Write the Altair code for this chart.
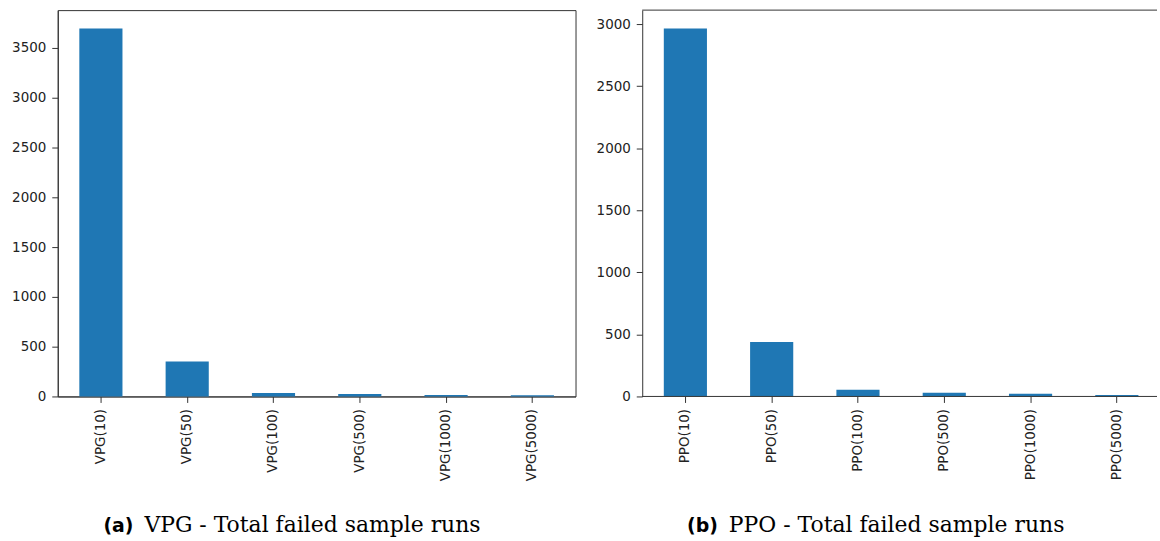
import altair as alt
import pandas as pd

# Failed sample runs per batch size
vpg_labels = ["VPG(10)", "VPG(50)", "VPG(100)", "VPG(500)", "VPG(1000)", "VPG(5000)"]
vpg_failed = [3695, 352, 34, 24, 14, 12]

ppo_labels = ["PPO(10)", "PPO(50)", "PPO(100)", "PPO(500)", "PPO(1000)", "PPO(5000)"]
ppo_failed = [2965, 439, 54, 30, 22, 12]

vpg_ticks = [0, 500, 1000, 1500, 2000, 2500, 3000, 3500]
ppo_ticks = [0, 500, 1000, 1500, 2000, 2500, 3000]

captions = [("(a)", "VPG - Total failed sample runs"), ("(b)", "PPO - Total failed sample runs")]

PLOT_H = 388
SPINE = "#333333"


def panel(labels, values, ticks, caption, plot_w, band_w, framed):
    df = pd.DataFrame({"run": labels, "failed": values})
    ymax = max(values) * 1.05  # 5% headroom above the tallest bar

    bars = alt.Chart(df).mark_bar(color="#1f77b4").encode(
        x=alt.X(
            "run:N",
            sort=labels,
            scale=alt.Scale(paddingInner=0.5, paddingOuter=0.25, range=[0, band_w]),
            axis=alt.Axis(title=None, labelAngle=270, domain=framed),
        ),
        y=alt.Y(
            "failed:Q",
            scale=alt.Scale(domain=[0, ymax], nice=False, zero=True),
            axis=alt.Axis(title=None, values=ticks, format="d"),
        ),
    )

    cap_df = pd.DataFrame({"tag": [caption[0]], "text": [caption[1]]})
    tag = alt.Chart(cap_df).mark_text(
        align="right", baseline="alphabetic", font="DejaVu Sans",
        fontWeight="bold", fontSize=19, color="black",
    ).encode(x=alt.value(76), y=alt.value(524), text="tag:N")
    cap = alt.Chart(cap_df).mark_text(
        align="left", baseline="alphabetic", font="DejaVu Serif",
        fontSize=22, color="black",
    ).encode(x=alt.value(87), y=alt.value(524), text="text:N")

    layers = [bars, tag, cap]
    if not framed:
        edge_df = pd.DataFrame({"edge": ["frame"]})
        for yy in (0, PLOT_H):
            layers.append(
                alt.Chart(edge_df).mark_rule(color=SPINE, strokeWidth=1).encode(
                    x=alt.value(0), x2=alt.value(plot_w), y=alt.value(yy)
                )
            )

    chart = alt.layer(*layers).properties(width=plot_w, height=PLOT_H)
    if not framed:
        chart = chart.properties(view=alt.ViewBackground(strokeWidth=0, strokeOpacity=0))
    return chart


left = panel(vpg_labels, vpg_failed, vpg_ticks, captions[0], 520, 520, True)
right = panel(ppo_labels, ppo_failed, ppo_ticks, captions[1], 517, 520, False)

chart = (
    alt.hconcat(left, right, spacing=19)
    .properties(padding={"left": 11, "top": 8, "right": 0, "bottom": 0}, background="white")
    .configure_view(stroke=SPINE, strokeWidth=1)
    .configure_axis(
        labelFont="DejaVu Sans",
        labelFontSize=13.5,
        labelColor="#222222",
        tickColor=SPINE,
        domainColor=SPINE,
        tickSize=6,
        tickWidth=1,
        labelPadding=6,
        grid=False,
    )
)

chart.save("out.html", embed_options={"renderer": "svg", "actions": False})
